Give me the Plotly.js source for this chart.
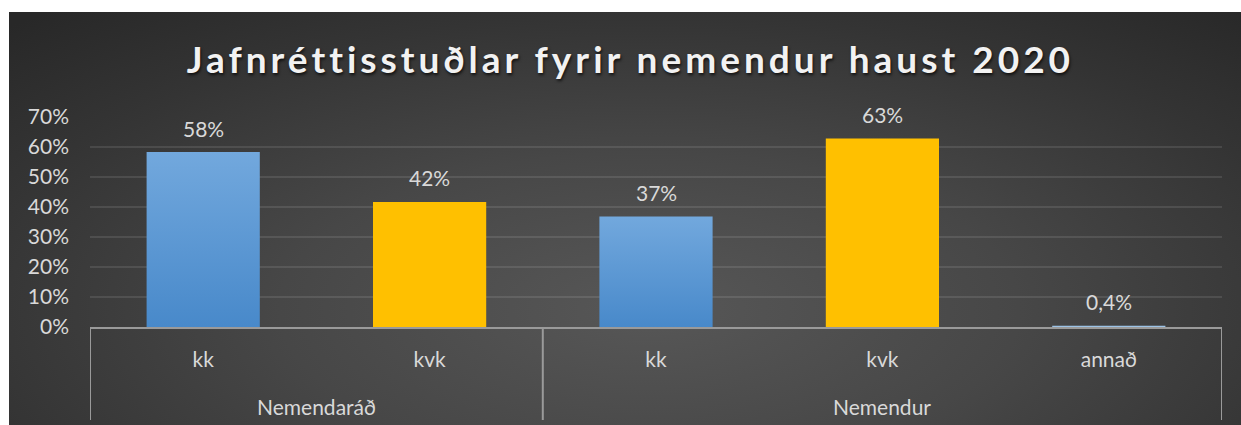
<!DOCTYPE html>
<html>
<head>
<meta charset="utf-8">
<script src="https://cdn.plot.ly/plotly-3.0.1.min.js"></script>
<style>
  html, body { margin: 0; padding: 0; background: #ffffff; width: 1241px; height: 425px; overflow: hidden; }
  #bg { position: absolute; left: 9px; top: 12px; width: 1232px; height: 413px;
        background: radial-gradient(ellipse 75% 95% at 52% 72%, #575757 0%, #474747 40%, #343434 75%, #282828 100%); }
  #chart { position: absolute; left: 0; top: 0; width: 1241px; height: 425px; }
  .gtitle { letter-spacing: 4px; }
</style>
</head>
<body>
<div id="bg"></div>
<svg width="0" height="0" style="position:absolute">
  <defs>
    <linearGradient id="blueGrad" x1="0" y1="0" x2="0" y2="1">
      <stop offset="0%" stop-color="#72a8dd"/>
      <stop offset="100%" stop-color="#4889ca"/>
    </linearGradient>
  </defs>
</svg>
<div id="chart"></div>
<script>
const groups = ["Nemendaráð", "Nemendaráð", "Nemendur", "Nemendur", "Nemendur"];
const categories = ["kk", "kvk", "kk", "kvk", "annað"];
const values = [58.3, 41.7, 36.8, 62.8, 0.4];
const barColors = ["#5c9ad6", "#ffc000", "#5c9ad6", "#ffc000", "#9dc3e6"];
const yTicks = [0, 10, 20, 30, 40, 50, 60, 70];

function fmt(v) {
  if (v < 1) return v.toString().replace('.', ',') + '%';
  return Math.round(v) + '%';
}

const FONT = "Lato, 'Open Sans', sans-serif";
const labelFont = { family: FONT, size: 21, color: "#d9d9d9" };
const pos = categories.map((c, i) => i);

const trace = {
  type: "bar",
  x: pos,
  y: values,
  marker: { color: barColors, line: { width: 0 } },
  hoverinfo: "none"
};

// value labels above bars
const annotations = values.map((v, i) => ({
  x: pos[i], y: v, xref: "x", yref: "y",
  text: fmt(v), showarrow: false,
  xanchor: "center", yanchor: "middle", yshift: 24,
  font: labelFont
}));

// group labels and dividers
const groupNames = [...new Set(groups)];
const shapes = [];
const lineStyle = { color: "#9a9a9a", width: 2 };
const divY = -93 / 210;
groupNames.forEach(g => {
  const idx = pos.filter(i => groups[i] === g);
  const mid = (Math.min(...idx) + Math.max(...idx)) / 2;
  annotations.push({
    x: mid, y: 0, xref: "x", yref: "paper",
    text: g, showarrow: false, xanchor: "center", yanchor: "middle", yshift: -79,
    font: labelFont
  });
});
const boundaries = [-0.5];
pos.forEach(i => { if (i === pos.length - 1 || groups[i] !== groups[i + 1]) boundaries.push(i + 0.5); });
boundaries.forEach(b => shapes.push({
  type: "line", xref: "x", yref: "paper", x0: b, x1: b, y0: 0, y1: divY, line: lineStyle, layer: "above"
}));

const layout = {
  width: 1241,
  height: 425,
  margin: { l: 90, r: 19, t: 117, b: 98 },
  paper_bgcolor: "rgba(0,0,0,0)",
  plot_bgcolor: "rgba(0,0,0,0)",
  bargap: 0.5,
  showlegend: false,
  annotations: annotations,
  shapes: shapes,
  title: {
    text: "Jafnréttisstuðlar fyrir nemendur haust 2020",
    font: { family: FONT, size: 37, color: "#f2f2f2", weight: 700,
            shadow: "1px 2px 3px rgba(0,0,0,0.7)" },
    x: 0.508, xref: "container", xanchor: "center",
    y: 1 - 60 / 425, yref: "container", yanchor: "middle"
  },
  xaxis: {
    range: [-0.5, pos.length - 0.5],
    tickvals: pos,
    ticktext: categories,
    tickfont: labelFont,
    ticklabelstandoff: 13,
    showline: true, linecolor: "#9a9a9a", linewidth: 2,
    ticks: "", showgrid: false, zeroline: false
  },
  yaxis: {
    range: [0, 70],
    tickvals: yTicks,
    ticktext: yTicks.map(v => v + "%"),
    tickfont: labelFont,
    ticklabelstandoff: 20,
    showgrid: true, gridcolor: "rgba(255,255,255,0.1)", gridwidth: 1.5,
    zeroline: false, showline: false, ticks: ""
  }
};

Plotly.newPlot("chart", [trace], layout, { staticPlot: true }).then(() => {
  document.querySelectorAll("#chart .bars .point path").forEach((p, i) => {
    if (categories[i] === "kk") p.style.fill = "url(#blueGrad)";
  });
});
</script>
</body>
</html>
